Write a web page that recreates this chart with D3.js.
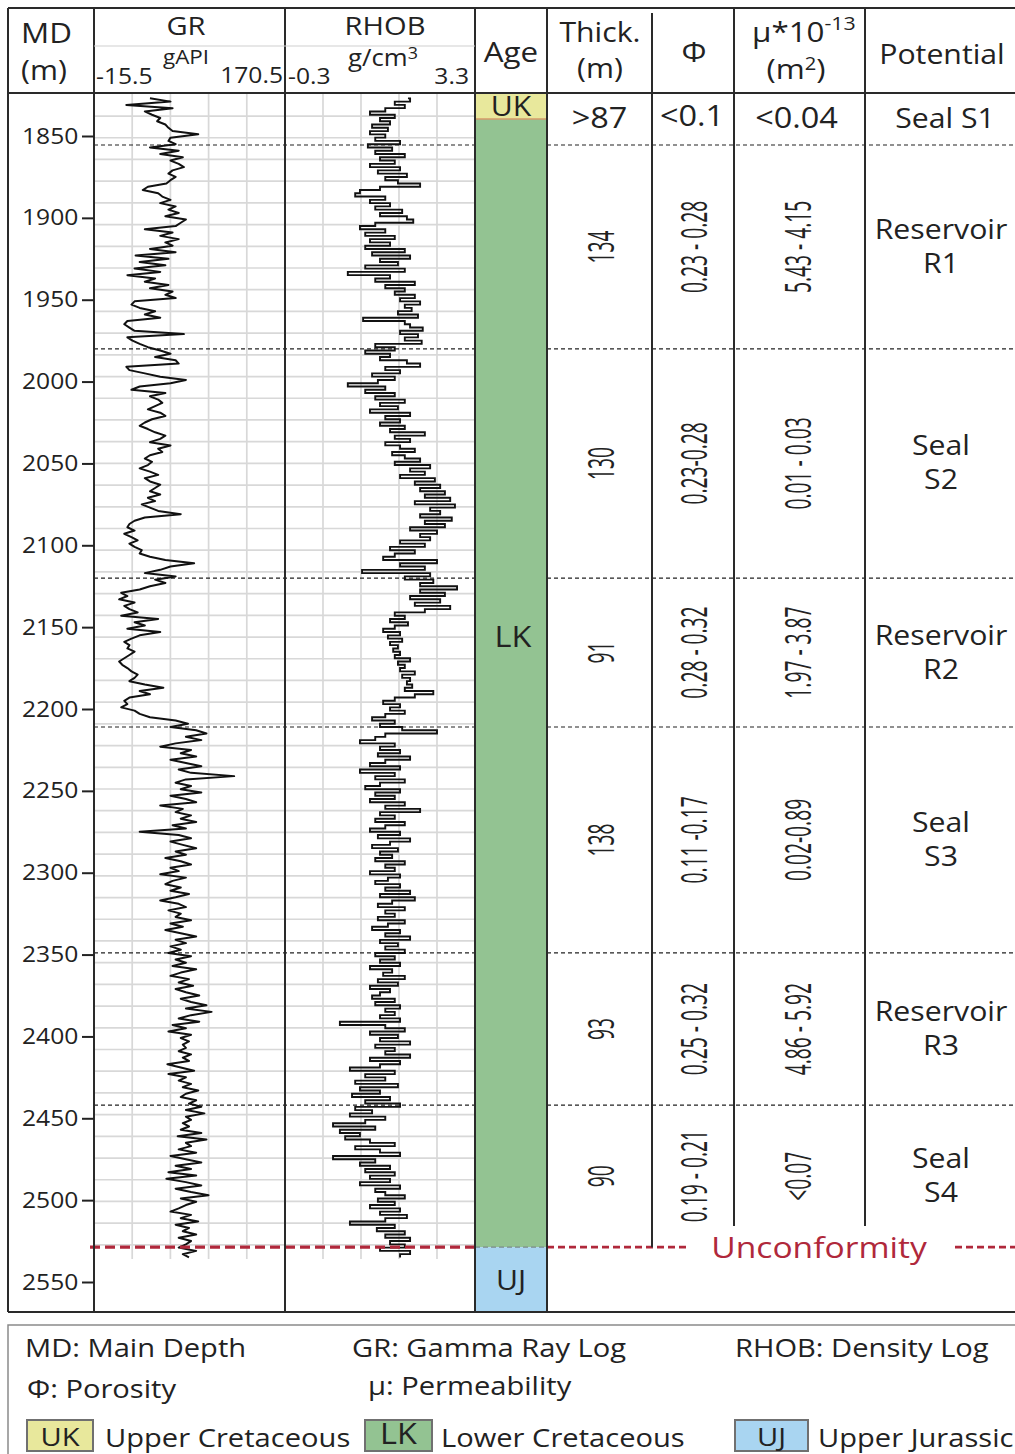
<!DOCTYPE html>
<html>
<head>
<meta charset="utf-8">
<script src="https://cdn.jsdelivr.net/npm/d3@7"></script>
<style>
  body { margin: 0; background: #fff; }
  text { font-family: "Open Sans", "Noto Sans", sans-serif; fill: #222; }
</style>
</head>
<body>
<svg id="chart" width="1015" height="1454"></svg>
<script>
// ---------------- data ----------------
// measured depth scale (m)
const depthTicks = [1850, 1900, 1950, 2000, 2050, 2100, 2150, 2200, 2250, 2300, 2350, 2400, 2450, 2500, 2550];

// log samples: first depth and sampling interval (m)
const logStart = 1827;
const logStep = 2;

// gamma ray (gAPI), one value per sample
const grValues = [
  39,59,16,61,34,41,49,46,54,57,
  61,86,59,57,64,39,67,49,71,59,
  67,72,61,57,64,59,55,37,32,47,
  51,59,49,64,57,67,54,74,69,64,
  34,61,49,67,54,61,39,64,25,57,
  29,54,24,49,17,44,34,57,39,61,
  54,64,24,21,29,44,34,49,17,14,
  19,24,72,17,22,29,37,49,59,44,
  64,67,16,19,34,49,74,59,29,21,
  54,39,47,51,44,37,49,54,41,34,
  29,37,44,54,49,39,59,47,51,39,
  34,41,37,29,39,47,34,39,49,44,
  39,49,37,44,31,39,47,69,34,24,
  19,17,24,14,21,27,19,24,31,29,
  39,54,82,59,49,34,64,44,54,39,
  29,11,17,9,24,14,19,27,11,47,
  24,34,17,49,29,21,14,19,17,24,
  19,14,9,12,17,21,27,24,19,34,
  52,29,39,19,14,17,11,24,29,39,
  64,76,59,84,94,74,89,64,49,79,
  69,84,59,74,89,67,79,121,74,64,
  79,69,89,59,74,84,49,71,64,79,
  69,84,61,74,29,67,79,59,71,84,
  64,74,54,69,79,59,67,49,74,61,
  54,69,59,77,64,49,67,74,57,69,
  64,79,59,71,54,69,84,64,74,59,
  69,57,79,64,74,61,84,69,59,77,
  67,81,64,74,87,69,79,94,74,99,
  79,67,87,61,74,57,79,69,77,71,
  74,67,79,71,77,56,69,82,57,74,
  67,79,71,86,74,69,84,77,89,74,
  92,74,79,71,77,69,89,66,94,74,
  79,67,84,59,74,89,64,79,57,84,
  55,74,89,64,79,96,69,84,74,67,
  59,79,69,86,64,77,71,84,67,79,
  74,67,84,71,77
];

// bulk density (g/cm3), one value per sample
const rhobValues = [
  2.03,2.07,1.78,1.97,1.60,1.31,1.78,1.50,1.69,1.35,
  1.65,1.31,1.60,1.41,1.88,1.27,1.73,1.41,1.97,1.50,
  1.78,1.31,1.88,1.46,2.01,1.60,1.84,2.26,1.50,1.12,
  1.03,1.60,1.31,1.69,1.41,1.92,1.50,2.01,2.13,1.41,
  1.12,1.60,1.22,1.78,1.31,1.69,1.22,1.97,1.35,2.07,
  1.50,1.84,1.22,1.97,0.89,1.69,1.41,2.16,1.60,1.97,
  1.78,2.16,1.88,2.26,1.97,2.10,1.84,2.22,1.18,1.97,
  2.07,2.31,1.88,2.22,1.97,2.29,1.41,1.78,1.22,1.69,
  1.50,2.01,2.26,1.60,1.88,1.35,1.78,1.46,0.89,1.60,
  1.22,1.78,1.41,1.97,1.50,1.84,1.31,2.07,1.60,1.88,
  1.50,1.97,1.69,2.35,1.78,2.07,1.60,1.88,2.16,1.73,
  1.97,2.26,1.78,2.45,2.07,2.35,1.88,2.54,2.16,2.64,
  2.26,2.73,2.35,2.83,2.16,2.92,2.45,2.64,2.26,2.86,
  2.35,2.73,2.07,2.58,2.26,2.45,1.88,2.35,1.69,2.16,
  1.78,1.56,2.58,1.88,2.35,1.16,2.45,1.97,2.51,2.26,
  2.96,2.26,2.73,2.07,2.64,2.16,2.83,2.35,1.78,1.97,
  1.69,2.03,1.78,1.56,1.88,1.65,1.92,1.69,1.84,1.75,
  1.88,1.78,2.07,1.84,1.97,1.88,2.16,1.92,2.07,2.01,
  2.11,1.97,2.51,2.16,1.78,1.56,1.88,1.69,1.97,1.60,
  1.35,1.78,1.50,1.92,2.58,1.60,1.41,1.12,1.78,1.50,
  1.88,1.46,2.07,1.60,1.31,1.88,1.12,1.78,1.41,1.97,
  1.50,1.22,1.88,1.41,1.78,1.31,1.97,1.60,2.26,1.50,
  1.78,1.41,1.97,1.60,1.31,1.88,1.46,2.07,1.69,1.35,
  1.84,1.50,1.73,1.41,1.97,1.60,1.78,1.31,1.88,1.65,
  1.41,1.88,1.60,2.07,1.50,2.16,1.73,1.46,1.97,1.60,
  1.78,1.46,1.97,1.65,1.35,1.88,1.60,2.07,1.50,1.84,
  1.60,1.97,1.41,1.78,1.50,1.88,1.31,1.73,1.56,1.97,
  1.46,1.84,1.31,1.69,1.50,1.35,1.78,1.41,1.88,1.60,
  1.78,1.50,1.88,0.74,1.60,1.97,1.31,1.84,1.50,2.07,
  1.41,1.78,1.60,2.07,1.31,1.88,1.50,0.93,1.78,1.22,
  1.60,1.03,1.84,1.12,1.50,0.97,1.69,1.22,1.88,1.03,
  1.35,0.93,1.60,1.22,0.61,1.41,0.74,1.12,0.84,1.31,
  1.78,1.03,1.50,1.88,0.61,1.41,1.12,1.69,1.22,1.78,
  1.31,1.69,1.12,1.88,1.41,1.60,1.97,1.46,1.78,1.31,
  1.88,1.50,2.01,1.60,0.93,1.78,1.44,1.97,1.60,2.07,
  1.69,1.97,1.50,2.07,1.88
];

// log track ranges
const grRange = [-15.5, 170.5];
const rhobRange = [-0.3, 3.3];

// section top / bottom (m)
const sectionTop = 1824.3;
const sectionBottom = 2568.4;

// chronostratigraphic units
const ageCodes = ["UK", "LK", "UJ"];
const ageNames = ["Upper Cretaceous", "Lower Cretaceous", "Upper Jurassic"];
const ageTops = [1824.3, 1839.6, 2528.7];
const ageBases = [1839.6, 2528.7, 2568.4];

// petrophysical zones (base depth in m)
const zoneBases = [1855.5, 1980, 2120, 2211, 2349, 2442, 2528.7];
const zoneThickness = [">87", "134", "130", "91", "138", "93", "90"];
const zonePorosity = ["<0.1", "0.23 - 0.28", "0.23-0.28", "0.28 - 0.32", "0.11 -0.17", "0.25 - 0.32", "0.19 - 0.21"];
const zonePermeability = ["<0.04", "5.43 - 4.15", "0.01 - 0.03", "1.97 - 3.87", "0.02-0.89", "4.86 - 5.92", "<0.07"];
const zonePotential = [["Seal S1"], ["Reservoir", "R1"], ["Seal", "S2"], ["Reservoir", "R2"], ["Seal", "S3"], ["Reservoir", "R3"], ["Seal", "S4"]];

const unconformityDepth = 2528.7;

// ---------------- layout & style ----------------
const W = 1015;
const ageFill = { UK: "#e8e89c", LK: "#93c392", UJ: "#a9d5f1" };
const red = "#b0283b";
const wide = 1.12;   // horizontal stretch of the lettering

const col = { left: 8, gr: 94, rhob: 285, age: 475, thick: 547, phi: 652, perm: 734, pot: 865, right: 1015 };
const tableTop = 8, headerBottom = 93, tableBottom = 1312;

const svg = d3.select("#chart");
svg.append("rect").attr("width", W).attr("height", 1454).attr("fill", "#fff");

const y = d3.scaleLinear().domain([1850, 2550]).range([136, 1282]);
const xGR = d3.scaleLinear().domain(grRange).range([col.gr, col.rhob]);
const xRHOB = d3.scaleLinear().domain(rhobRange).range([col.rhob, col.age]);

function txt(x, yy, s, size, anchor) {
  return svg.append("text")
    .attr("transform", `translate(${x},${yy}) scale(${wide},1)`)
    .attr("font-size", size)
    .attr("text-anchor", anchor || "start").text(s);
}

// ---------------- grid in log tracks ----------------
const grid = svg.append("g").attr("stroke", "#d8d8d8").attr("stroke-width", 1.7);
const gridBottom = 2536;
[xGR, xRHOB].forEach(sc => {
  const [a, b] = sc.domain();
  d3.range(1, 5).forEach(k => {
    const v = a + (b - a) * k / 5;
    grid.append("line")
      .attr("x1", sc(v)).attr("x2", sc(v))
      .attr("y1", y(sectionTop)).attr("y2", y(gridBottom));
  });
});
d3.range(1837.8, gridBottom, 13.26).forEach(d => {
  grid.append("line")
    .attr("x1", col.gr).attr("x2", col.age)
    .attr("y1", y(d)).attr("y2", y(d));
});

// ---------------- age column ----------------
ageCodes.forEach((c, i) => {
  svg.append("rect")
    .attr("x", col.age).attr("width", col.thick - col.age)
    .attr("y", y(ageTops[i])).attr("height", y(ageBases[i]) - y(ageTops[i]))
    .attr("fill", ageFill[c]);
});
svg.append("line").attr("x1", col.age).attr("x2", col.thick)
  .attr("y1", y(ageBases[0])).attr("y2", y(ageBases[0]))
  .attr("stroke", "#d49a6a").attr("stroke-width", 1.5);
svg.append("line").attr("x1", col.age).attr("x2", col.thick)
  .attr("y1", y(ageBases[1])).attr("y2", y(ageBases[1]))
  .attr("stroke", "#7a8a8a").attr("stroke-width", 1.2).attr("stroke-dasharray", "5,3");

const ageLabelY = [(y(ageTops[0]) + y(ageBases[0])) / 2 + 10, 647, (y(ageTops[2]) + y(ageBases[2])) / 2 + 10];
ageCodes.forEach((c, i) => {
  txt((col.age + col.thick) / 2 + (i === 1 ? 2 : 0), ageLabelY[i], c, i === 1 ? 29 : 27, "middle");
});

// ---------------- zone boundaries ----------------
const zoneTops = [sectionTop].concat(zoneBases.slice(0, -1));
const dashed = svg.append("g").attr("stroke", "#222").attr("stroke-width", 1.2).attr("stroke-dasharray", "4,3");
zoneBases.slice(0, -1).forEach(d => {
  dashed.append("line").attr("x1", col.gr).attr("x2", col.age).attr("y1", y(d)).attr("y2", y(d));
  dashed.append("line").attr("x1", col.thick).attr("x2", col.right).attr("y1", y(d)).attr("y2", y(d));
});

// ---------------- log curves ----------------
const samples = grValues.map((v, i) => ({ depth: logStart + i * logStep, gr: v, rhob: rhobValues[i] }));
const grLine = d3.line().x(d => xGR(d.gr)).y(d => y(d.depth));
const rhobLine = d3.line().curve(d3.curveStepAfter).x(d => xRHOB(d.rhob)).y(d => y(d.depth));
svg.append("path").datum(samples).attr("d", grLine)
  .attr("fill", "none").attr("stroke", "#111").attr("stroke-width", 2).attr("stroke-linejoin", "round");
svg.append("path").datum(samples).attr("d", rhobLine)
  .attr("fill", "none").attr("stroke", "#111").attr("stroke-width", 1.9);

// ---------------- unconformity ----------------
const yu = y(unconformityDepth);
svg.append("line").attr("x1", 90).attr("x2", col.age).attr("y1", yu).attr("y2", yu)
  .attr("stroke", red).attr("stroke-width", 3.2).attr("stroke-dasharray", "10,5");
svg.append("line").attr("x1", col.thick).attr("x2", 688).attr("y1", yu).attr("y2", yu)
  .attr("stroke", red).attr("stroke-width", 2.6).attr("stroke-dasharray", "7,4");
svg.append("line").attr("x1", 955).attr("x2", col.right).attr("y1", yu).attr("y2", yu)
  .attr("stroke", red).attr("stroke-width", 2.6).attr("stroke-dasharray", "7,4");
txt(819, yu + 11, "Unconformity", 30, "middle").style("fill", red);

// ---------------- frame lines ----------------
const frame = svg.append("g").attr("stroke", "#2a2a2a").attr("stroke-width", 2).attr("fill", "none");
frame.append("line").attr("x1", col.left).attr("x2", col.right).attr("y1", tableTop).attr("y2", tableTop);
frame.append("line").attr("x1", col.left).attr("x2", col.right).attr("y1", headerBottom).attr("y2", headerBottom);
frame.append("line").attr("x1", col.left).attr("x2", col.right).attr("y1", tableBottom).attr("y2", tableBottom);
[col.left, col.gr, col.rhob, col.age, col.thick].forEach(x => {
  frame.append("line").attr("x1", x).attr("x2", x).attr("y1", tableTop).attr("y2", tableBottom);
});
frame.append("line").attr("x1", col.phi).attr("x2", col.phi).attr("y1", 13).attr("y2", yu);
frame.append("line").attr("x1", col.perm).attr("x2", col.perm).attr("y1", tableTop).attr("y2", 1226);
frame.append("line").attr("x1", col.pot).attr("x2", col.pot).attr("y1", tableTop).attr("y2", 1226);
// thin rule inside the log headers
svg.append("line").attr("x1", col.gr).attr("x2", col.age).attr("y1", 46).attr("y2", 46)
  .attr("stroke", "#d0d0d0").attr("stroke-width", 1.2);

// ---------------- depth axis ----------------
const axis = d3.axisLeft(y).tickValues(depthTicks).tickFormat(d3.format("d"))
  .tickSize(12).tickSizeOuter(0).tickPadding(2);
const ag = svg.append("g").attr("transform", `translate(${col.gr},0)`).call(axis);
ag.select(".domain").remove();
ag.selectAll(".tick line").attr("stroke", "#222").attr("stroke-width", 2);
ag.selectAll(".tick text").attr("font-size", 22).attr("font-family", "Open Sans")
  .attr("transform", `scale(${wide},1)`).style("fill", "#222");

// ---------------- header ----------------
txt(21, 43, "MD", 28);
txt(21, 80, "(m)", 27);
txt(186, 35, "GR", 26, "middle");
txt(163, 64, "gAPI", 20);
txt(96, 84, "-15.5", 22);
txt(283, 83, "170.5", 22, "end");
txt(385, 35, "RHOB", 26, "middle");
const gcm = txt(383, 66, "g/cm", 23, "middle");
gcm.append("tspan").attr("font-size", 16).attr("dy", -7).text("3");
txt(288, 84, "-0.3", 22);
txt(469, 84, "3.3", 22, "end");
txt(511, 62, "Age", 28, "middle");
txt(600, 42, "Thick.", 27, "middle");
txt(600, 78, "(m)", 27, "middle");
txt(694, 62, "Φ", 28, "middle");
const mu = txt(752, 42, "μ*10", 28);
mu.append("tspan").attr("font-size", 19).attr("dy", -12).text("-13");
const m2 = txt(796, 79, "(m", 28, "middle");
m2.append("tspan").attr("font-size", 18).attr("dy", -9).text("2");
m2.append("tspan").attr("dy", 9).text(")");
txt(942, 64, "Potential", 27, "middle");

// ---------------- zone table ----------------
const colCenter = {
  thick: (col.thick + col.phi) / 2,
  phi: (col.phi + col.perm) / 2,
  perm: (col.perm + col.pot) / 2,
  pot: (col.pot + col.right) / 2 + 1
};
zoneBases.forEach((b, i) => {
  const yc = (y(zoneTops[i]) + y(b)) / 2;
  if (i === 0) {
    txt(colCenter.thick, yc + 9, zoneThickness[i], 29, "middle");
    txt(colCenter.phi - 1, yc + 7, zonePorosity[i], 29, "middle");
    txt(colCenter.perm - 3, yc + 9, zonePermeability[i], 29, "middle");
    txt(colCenter.pot + 4, yc + 9, zonePotential[i][0], 27, "middle");
    return;
  }
  [[colCenter.thick, zoneThickness[i]], [colCenter.phi, zonePorosity[i]], [colCenter.perm - 3, zonePermeability[i]]]
    .forEach(([cx, s]) => {
      svg.append("text")
        .attr("transform", `translate(${cx},${yc}) rotate(-90) scale(0.52,1)`)
        .attr("text-anchor", "middle").attr("dominant-baseline", "central")
        .attr("font-size", 37).text(s);
    });
  const lines = zonePotential[i];
  txt(colCenter.pot, yc - 8, lines[0], 27, "middle");
  txt(colCenter.pot, yc + 26, lines[1], 27, "middle");
});

// ---------------- legend ----------------
svg.append("path").attr("d", `M${W},1325 H8 V1454`).attr("fill", "none")
  .attr("stroke", "#8a8a8a").attr("stroke-width", 1.5);
txt(25, 1357, "MD: Main Depth", 26);
txt(352, 1357, "GR: Gamma Ray Log", 26);
txt(735, 1357, "RHOB: Density Log", 26);
txt(27, 1398, "Φ: Porosity", 26);
txt(368, 1395, "μ: Permeability", 26);

const legendX = [27, 365, 735];
const legendW = [66, 67, 73];
const legendTextX = [105, 441, 818];
ageCodes.forEach((c, i) => {
  svg.append("rect").attr("x", legendX[i]).attr("y", 1420).attr("width", legendW[i]).attr("height", 31)
    .attr("fill", ageFill[c]).attr("stroke", "#707070").attr("stroke-width", 2);
  txt(legendX[i] + legendW[i] / 2, 1446 - (i === 1 ? 2 : 0), c, i === 1 ? 29 : 26, "middle");
  txt(legendTextX[i], 1447, ageNames[i], 26);
});
</script>
</body>
</html>
